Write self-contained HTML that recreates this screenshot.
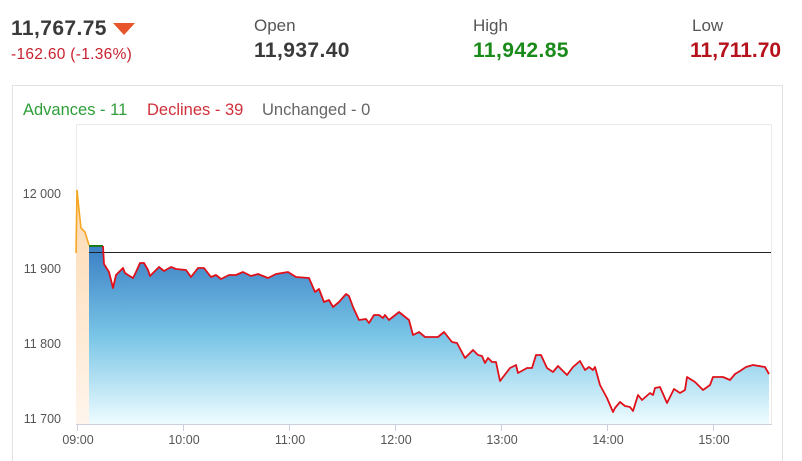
<!DOCTYPE html>
<html><head><meta charset="utf-8"><style>
html,body{margin:0;padding:0;background:#fff;}
svg{display:block;font-family:"Liberation Sans",sans-serif;}
</style></head><body>
<svg width="802" height="461" viewBox="0 0 802 461">
<defs>
<linearGradient id="g" x1="0" y1="246" x2="0" y2="424" gradientUnits="userSpaceOnUse">
<stop offset="0" stop-color="#3a7fc4"/><stop offset="0.5" stop-color="#78c4e6"/><stop offset="1" stop-color="#eefcff"/>
</linearGradient>
<linearGradient id="p" x1="0" y1="190" x2="0" y2="424" gradientUnits="userSpaceOnUse">
<stop offset="0" stop-color="#fcd9b0"/><stop offset="1" stop-color="#fff5ec"/>
</linearGradient>
</defs>
<text x="11" y="35" font-size="21" font-weight="bold" fill="#3a3a3a" letter-spacing="0.4">11,767.75</text>
<polygon points="113,23 135,23 124,35" fill="#e8552a"/>
<text x="11" y="59" font-size="15.5" fill="#c8212e" letter-spacing="0.3">-162.60 (-1.36%)</text>
<text x="254" y="31" font-size="17" fill="#555">Open</text>
<text x="254" y="57" font-size="21" font-weight="bold" fill="#3a3a3a" letter-spacing="0.4">11,937.40</text>
<text x="473" y="31" font-size="17" fill="#555">High</text>
<text x="473" y="57" font-size="21" font-weight="bold" fill="#1a8a1a" letter-spacing="0.4">11,942.85</text>
<text x="692" y="31" font-size="17" fill="#555">Low</text>
<text x="690" y="57" font-size="21" font-weight="bold" fill="#b5121b">11,711.70</text>
<rect x="12.5" y="85.5" width="770" height="380" fill="none" stroke="#e2e2e2"/>
<text x="23" y="115" font-size="16.5" fill="#2e9e3a">Advances - 11</text>
<text x="147" y="115" font-size="16.5" fill="#d0303a">Declines - 39</text>
<text x="262" y="115" font-size="16.5" fill="#666">Unchanged - 0</text>
<rect x="76.5" y="124.5" width="695" height="300" fill="none" stroke="#eaeaea"/>
<g font-size="12.5" fill="#555" text-anchor="end">
<text x="61" y="198">12 000</text><text x="61" y="273">11 900</text>
<text x="61" y="348">11 800</text><text x="61" y="423">11 700</text>
</g>
<path d="M76,253 L77,190 L79,210 L81,228 L85,232 L89,245 L89,424 L76,424 Z" fill="url(#p)"/>
<polyline points="76,253 77,190 79,210 81,228 85,232 89,245" fill="none" stroke="#f5a623" stroke-width="1.6"/>
<path d="M89,246 L103,246 L104,264 L109,272 L113,288 L116,275 L119,272 L123,268 L125,273 L128,275 L133,278 L136,272 L140,263 L144,263 L148,270 L150,276 L153,273 L159,267 L164,271 L171,267 L176,269 L186,270 L191,277 L198,268 L204,268 L211,277 L216,275 L221,279 L229,275 L236,275 L243,272 L251,276 L258,274 L268,278 L276,274 L288,272 L296,277 L309,278 L315,292 L319,289 L324,302 L329,300 L333,307 L339,302 L346,294 L349,296 L353,307 L359,320 L366,319 L369,323 L374,315 L379,315 L383,318 L385,315 L389,320 L399,312 L409,320 L413,335 L419,332 L425,337 L438,337 L444,332 L452,342 L457,343 L465,358 L473,350 L478,355 L482,356 L485,363 L488,358 L492,362 L496,362 L500,381 L510,368 L516,365 L518,373 L527,368 L532,368 L536,355 L541,355 L547,368 L553,372 L558,366 L567,375 L573,367 L580,361 L585,370 L589,367 L593,370 L595,367 L600,385 L607,398 L613,412 L615,408 L620,402 L625,406 L630,407 L633,411 L638,395 L642,400 L650,393 L653,395 L655,388 L660,387 L667,403 L674,389 L680,393 L685,390 L687,377 L695,382 L703,390 L710,385 L713,377 L723,377 L730,380 L735,374 L740,371 L746,367 L753,365 L765,367 L769,374 L769,424 L89,424 Z" fill="url(#g)"/>
<line x1="89" y1="252.5" x2="771" y2="252.5" stroke="#222" stroke-width="1"/>
<polyline points="89,246 103,246" fill="none" stroke="#1a7a1a" stroke-width="2"/>
<polyline points="103,246 104,264 109,272 113,288 116,275 119,272 123,268 125,273 128,275 133,278 136,272 140,263 144,263 148,270 150,276 153,273 159,267 164,271 171,267 176,269 186,270 191,277 198,268 204,268 211,277 216,275 221,279 229,275 236,275 243,272 251,276 258,274 268,278 276,274 288,272 296,277 309,278 315,292 319,289 324,302 329,300 333,307 339,302 346,294 349,296 353,307 359,320 366,319 369,323 374,315 379,315 383,318 385,315 389,320 399,312 409,320 413,335 419,332 425,337 438,337 444,332 452,342 457,343 465,358 473,350 478,355 482,356 485,363 488,358 492,362 496,362 500,381 510,368 516,365 518,373 527,368 532,368 536,355 541,355 547,368 553,372 558,366 567,375 573,367 580,361 585,370 589,367 593,370 595,367 600,385 607,398 613,412 615,408 620,402 625,406 630,407 633,411 638,395 642,400 650,393 653,395 655,388 660,387 667,403 674,389 680,393 685,390 687,377 695,382 703,390 710,385 713,377 723,377 730,380 735,374 740,371 746,367 753,365 765,367 769,374" fill="none" stroke="#e0101a" stroke-width="1.8" stroke-linejoin="round"/>
<line x1="76" y1="424.5" x2="772" y2="424.5" stroke="#ccd0dc"/>
<g stroke="#ccd0dc">
<line x1="77.5" y1="425" x2="77.5" y2="431"/><line x1="183.5" y1="425" x2="183.5" y2="431"/>
<line x1="289.5" y1="425" x2="289.5" y2="431"/><line x1="395.5" y1="425" x2="395.5" y2="431"/>
<line x1="501.5" y1="425" x2="501.5" y2="431"/><line x1="607.5" y1="425" x2="607.5" y2="431"/>
<line x1="713.5" y1="425" x2="713.5" y2="431"/>
</g>
<g font-size="12.5" fill="#555" text-anchor="middle">
<text x="78" y="444">09:00</text><text x="184" y="444">10:00</text><text x="290" y="444">11:00</text>
<text x="396" y="444">12:00</text><text x="502" y="444">13:00</text><text x="608" y="444">14:00</text><text x="714" y="444">15:00</text>
</g>
</svg>
</body></html>
